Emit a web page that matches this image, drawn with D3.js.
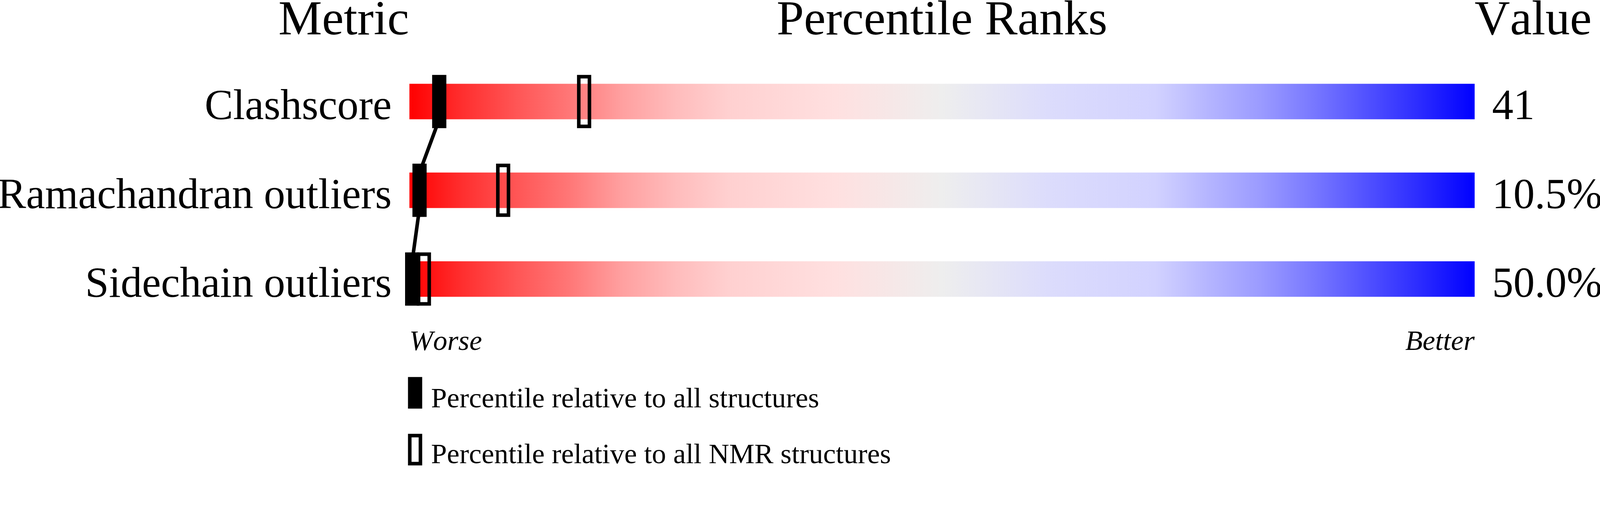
<!DOCTYPE html>
<html>
<head>
<meta charset="utf-8">
<script src="https://cdn.jsdelivr.net/npm/d3@7"></script>
<style>
  html, body { margin: 0; padding: 0; background: #fff; overflow: hidden; }
  svg { display: block; width: 100vw; height: auto; }
  text { font-family: "Liberation Serif", "Times New Roman", serif; fill: #000; font-kerning: none; }
</style>
</head>
<body>
<div id="chart"></div>
<script>
// data
const metrics = ["Clashscore", "Ramachandran outliers", "Sidechain outliers"];
const valueLabels = ["41", "10.5%", "50.0%"];
const pctAll = [2.8, 0.95, 0.26];   // percentile relative to all structures
const pctNMR = [16.4, 8.8, 1.36];   // percentile relative to NMR structures
const headers = ["Metric", "Percentile Ranks", "Value"];
const legendLabels = ["Percentile relative to all structures", "Percentile relative to all NMR structures"];
const gradOffsets = [0, 0.05, 0.1, 0.15, 0.2, 0.25, 0.3, 0.4, 0.5, 0.6, 0.7, 0.75, 0.8, 0.85, 0.9, 0.95, 1];
const gradColors = ["#ff0000", "#ff2f2f", "#ff5555", "#ff7777", "#ffa0a0", "#ffbcbc", "#ffd0d0", "#ffe0e0",
  "#eeeeee", "#dcdcfc", "#d2d2ff", "#b5b5ff", "#9a9aff", "#7777ff", "#5050ff", "#2a2aff", "#0000ff"];

// drawing size (scaled to the window through the viewBox)
const w = 4506;
const h = 1311;

const svg = d3.select("#chart")
      .append("svg")
      .attr("viewBox", `0 0 ${w} ${h}`)
      .attr("preserveAspectRatio", "xMidYMin meet");

// scales
const x = d3.scaleLinear().domain([0, 100]).range([1153, 4153]);
const y = d3.scalePoint().domain(metrics).range([286, 786]);
const barH = 100;
const markW = 40, markH = 150;

// gradient
const grad = svg.append("defs").append("linearGradient")
      .attr("id", "slider")
      .attr("x1", "0%").attr("x2", "100%")
      .attr("y1", "0%").attr("y2", "0%");
grad.selectAll("stop")
      .data(gradOffsets)
      .enter()
      .append("stop")
      .attr("offset", (d) => d)
      .attr("stop-color", (d, i) => gradColors[i]);

// headers
svg.append("text")
      .text(headers[0])
      .attr("x", x(0) - 1)
      .attr("y", 97)
      .attr("text-anchor", "end")
      .style("font-size", "138px");
svg.append("text")
      .text(headers[1])
      .attr("x", x(50))
      .attr("y", 97)
      .attr("text-anchor", "middle")
      .style("font-size", "138px");
svg.append("text")
      .text(headers[2])
      .attr("x", x(100))
      .attr("y", 97)
      .style("font-size", "138px");

// bars
svg.selectAll("rect.bar")
      .data(metrics)
      .enter()
      .append("rect")
      .attr("class", "bar")
      .attr("x", x(0))
      .attr("y", (d) => y(d) - barH / 2)
      .attr("width", x(100) - x(0))
      .attr("height", barH)
      .style("fill", "url(#slider)");

// metric names
svg.selectAll("text.metric")
      .data(metrics)
      .enter()
      .append("text")
      .attr("class", "metric")
      .text((d) => d)
      .attr("x", 1103)
      .attr("y", (d) => y(d) + barH / 2)
      .attr("text-anchor", "end")
      .style("font-size", "120px");

// values
svg.selectAll("text.value")
      .data(valueLabels)
      .enter()
      .append("text")
      .attr("class", "value")
      .text((d) => d)
      .attr("x", 4202)
      .attr("y", (d, i) => y(metrics[i]) + barH / 2)
      .style("font-size", "120px");

// connecting line between the "all structures" markers
const links = d3.pairs(metrics.map((m, i) => ({ m: m, p: pctAll[i] })));
svg.selectAll("line.link")
      .data(links)
      .enter()
      .append("line")
      .attr("class", "link")
      .attr("x1", (d) => x(d[0].p))
      .attr("y1", (d) => y(d[0].m) + barH / 2)
      .attr("x2", (d) => x(d[1].p))
      .attr("y2", (d) => y(d[1].m) - barH / 2)
      .style("stroke", "#000")
      .style("stroke-width", 10);

// markers: all structures (filled)
svg.selectAll("rect.all")
      .data(pctAll)
      .enter()
      .append("rect")
      .attr("class", "all")
      .attr("x", (d) => x(d) - markW / 2)
      .attr("y", (d, i) => y(metrics[i]) - markH / 2)
      .attr("width", markW)
      .attr("height", markH)
      .style("fill", "#000");

// markers: NMR structures (open)
svg.selectAll("rect.nmr")
      .data(pctNMR)
      .enter()
      .append("rect")
      .attr("class", "nmr")
      .attr("x", (d) => x(d) - markW / 2 + 5)
      .attr("y", (d, i) => y(metrics[i]) - markH / 2 + 5)
      .attr("width", markW - 10)
      .attr("height", markH - 10)
      .style("fill", "none")
      .style("stroke", "#000")
      .style("stroke-width", 10);

// worse / better
svg.append("text")
      .text("Worse")
      .attr("x", x(0))
      .attr("y", 986)
      .style("font-size", "80px")
      .style("font-style", "italic");
svg.append("text")
      .text("Better")
      .attr("x", x(100))
      .attr("y", 986)
      .attr("text-anchor", "end")
      .style("font-size", "80px")
      .style("font-style", "italic");

// legend
const ly = d3.scalePoint().domain(legendLabels).range([1147, 1305]);
const legend = svg.selectAll("g.legend")
      .data(legendLabels)
      .enter()
      .append("g")
      .attr("class", "legend");
legend.append("rect")
      .attr("x", (d, i) => i === 0 ? 1149 : 1154)
      .attr("y", (d, i) => i === 0 ? ly(d) - 85 : ly(d) - 78)
      .attr("width", (d, i) => i === 0 ? 40 : 30)
      .attr("height", (d, i) => i === 0 ? 89 : 79)
      .style("fill", (d, i) => i === 0 ? "#000" : "none")
      .style("stroke", (d, i) => i === 0 ? "none" : "#000")
      .style("stroke-width", 10);
legend.append("text")
      .text((d) => d)
      .attr("x", 1214)
      .attr("y", (d) => ly(d))
      .style("font-size", "80px");
</script>
</body>
</html>
